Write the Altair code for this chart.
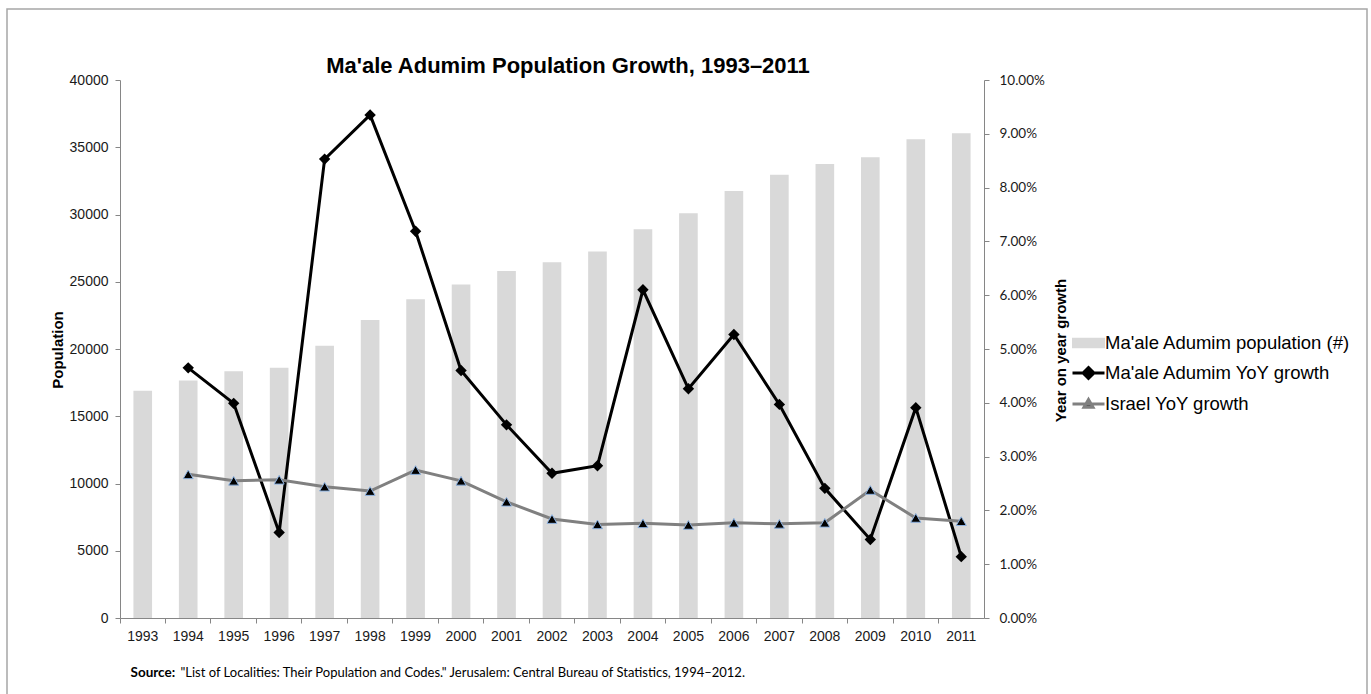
import altair as alt
import pandas as pd

# ---------------- data ----------------
years = [1993, 1994, 1995, 1996, 1997, 1998, 1999, 2000, 2001, 2002,
         2003, 2004, 2005, 2006, 2007, 2008, 2009, 2010, 2011]
population = [16900, 17650, 18350, 18600, 20250, 22150, 23700, 24800, 25800, 26450,
              27250, 28900, 30100, 31750, 32950, 33750, 34250, 35600, 36050]
growth_years = [1994, 1995, 1996, 1997, 1998, 1999, 2000, 2001, 2002,
                2003, 2004, 2005, 2006, 2007, 2008, 2009, 2010, 2011]
maale_growth_pct = [4.65, 3.99, 1.59, 8.53, 9.35, 7.19, 4.60, 3.59, 2.69,
                    2.83, 6.10, 4.26, 5.27, 3.97, 2.41, 1.46, 3.91, 1.14]
israel_growth_pct = [2.67, 2.55, 2.57, 2.44, 2.36, 2.75, 2.55, 2.16, 1.84,
                     1.74, 1.76, 1.73, 1.77, 1.75, 1.77, 2.38, 1.86, 1.80]
series_names = ["Ma'ale Adumim population (#)", "Ma'ale Adumim YoY growth", "Israel YoY growth"]
left_ticks = [0, 5000, 10000, 15000, 20000, 25000, 30000, 35000, 40000]
right_ticks = [0.0, 0.01, 0.02, 0.03, 0.04, 0.05, 0.06, 0.07, 0.08, 0.09, 0.10]
title_text = "Ma'ale Adumim Population Growth, 1993\u20132011"
source_label = "Source:"
source_text = ('"List of Localities: Their Population and Codes." Jerusalem: '
               'Central Bureau of Statistics, 1994\u20132012.')

pop_df = pd.DataFrame({"year": years, "population": population})
growth_df = pd.DataFrame({
    "year": growth_years + growth_years,
    "growth": [v / 100 for v in maale_growth_pct] + [v / 100 for v in israel_growth_pct],
    "series": [series_names[1]] * len(growth_years) + [series_names[2]] * len(growth_years),
})
legend_df = pd.DataFrame({"series": series_names})
frame_df = pd.DataFrame({"k": [0]})

# ---------------- styling ----------------
AXIS_GREY = "#868686"
ARIAL = "Liberation Sans"
CALIBRI = "Lato"

x_scale = alt.Scale(domain=years, paddingInner=0, paddingOuter=0)

tick_axis = alt.Axis(orient="bottom", labels=False, ticks=True, tickSize=5, tickColor=AXIS_GREY,
                     domainColor=AXIS_GREY, bandPosition=0, grid=False,
                     title=source_label, titleFont=CALIBRI, titleFontWeight="bold", titleFontSize=13.5,
                     titleColor="#000000", titleX=10, titleY=54, titleAlign="left",
                     titleBaseline="middle", titleAngle=0)
label_axis = alt.Axis(orient="bottom", labels=True, ticks=False, domain=False, grid=False,
                      labelAngle=0, labelFont=ARIAL, labelFontSize=14, labelColor="#1a1a1a",
                      labelPadding=11,
                      title=source_text, titleFont=CALIBRI, titleFontWeight="normal", titleFontSize=13,
                      titleColor="#000000", titleX=60, titleY=54, titleAlign="left",
                      titleBaseline="middle", titleAngle=0)

left_axis = alt.Axis(orient="left", values=left_ticks, format="d", tickSize=5, tickColor=AXIS_GREY,
                     domainColor=AXIS_GREY, grid=False, labelFont=ARIAL, labelFontSize=14,
                     labelColor="#1a1a1a", labelPadding=7,
                     title="Population", titleFont=ARIAL, titleFontWeight="bold", titleFontSize=15,
                     titleColor="#000000", titleAngle=270, titleX=-63, titleY=269.5,
                     titleAlign="center", titleBaseline="middle")
right_axis = alt.Axis(orient="right", values=right_ticks, format=".2%", tickSize=5,
                      tickColor=AXIS_GREY, domainColor=AXIS_GREY, grid=False,
                      labelFont=CALIBRI, labelFontSize=13.5, labelColor="#1a1a1a", labelPadding=10,
                      title="Year on year growth", titleFont=ARIAL, titleFontWeight="bold",
                      titleFontSize=15, titleColor="#000000", titleAngle=270, titleX=76,
                      titleY=270, titleAlign="center", titleBaseline="middle")

# ---------------- layers ----------------
frame = alt.Chart(frame_df).mark_rect(fill="transparent", stroke="#a6a6a6", strokeWidth=1.5).encode(
    x=alt.value(-113), x2=alt.value(1247), y=alt.value(-71), y2=alt.value(700))

bars = alt.Chart(pop_df).mark_bar(color="#d9d9d9", width=alt.RelativeBandSize(0.41)).encode(
    x=alt.X("year:O", scale=x_scale, axis=tick_axis),
    y=alt.Y("population:Q", scale=alt.Scale(domain=[0, 40000]), axis=left_axis),
)

gx = alt.X("year:O", scale=x_scale, axis=label_axis)
gy = alt.Y("growth:Q", scale=alt.Scale(domain=[0, 0.10]), axis=right_axis)
base_g = alt.Chart(growth_df).encode(x=gx, y=gy)

maale = base_g.transform_filter(alt.datum.series == series_names[1])
israel = base_g.transform_filter(alt.datum.series == series_names[2])

line_maale = maale.mark_line(color="#000000", strokeWidth=3)
pts_maale = maale.mark_point(shape="diamond", filled=True, color="#000000", size=130, opacity=1)
line_israel = israel.mark_line(color="#808080", strokeWidth=3)
pts_israel = israel.mark_point(shape="triangle-up", filled=True, fill="#000000", stroke="#8db3e2",
                               strokeWidth=1, size=100, opacity=1)

growth = alt.layer(line_maale, pts_maale, line_israel, pts_israel)

legend_paths = [
    "M-1,-0.25 H1 V0.25 H-1 Z",
    "M-1.0667,0 H1.0667 M0,-0.36 L0.36,0 L0,0.36 L-0.36,0 Z",
    "M-1.0667,0 H1.0667 M0,-0.3 L0.3,0.22 L-0.3,0.22 Z",
]
leg = alt.Legend(orient="none", legendX=952, legendY=246.5, title=None, symbolSize=900,
                 symbolStrokeWidth=3, symbolOpacity=1, labelFont=ARIAL, labelFontSize=18.5,
                 labelColor="#000000", labelLimit=400, labelOffset=0, rowPadding=3, padding=0)
legend_layer = alt.Chart(legend_df).mark_point(filled=True, opacity=0).encode(
    shape=alt.Shape("series:N", scale=alt.Scale(domain=series_names, range=legend_paths), legend=leg),
    fill=alt.Fill("series:N", scale=alt.Scale(domain=series_names,
                                               range=["#d9d9d9", "#000000", "#000000"]), legend=leg),
    stroke=alt.Stroke("series:N", scale=alt.Scale(domain=series_names,
                                                   range=["#d9d9d9", "#000000", "#808080"]), legend=leg),
)

chart = alt.layer(frame, bars, growth, legend_layer).resolve_scale(
    y="independent"
).resolve_axis(
    x="independent", y="independent"
).properties(
    width=864, height=538,
    title=alt.TitleParams(title_text, font=ARIAL, fontSize=22, fontWeight="bold", color="#000000",
                          anchor="middle", baseline="alphabetic", dx=16, dy=87, offset=0),
    autosize=alt.AutoSizeParams(type="none"),
    padding={"left": 120, "top": 80, "right": 387, "bottom": 76},
    background="#ffffff",
).configure_view(strokeWidth=0)

chart.save("out.html", embed_options={"renderer": "svg", "actions": False})
